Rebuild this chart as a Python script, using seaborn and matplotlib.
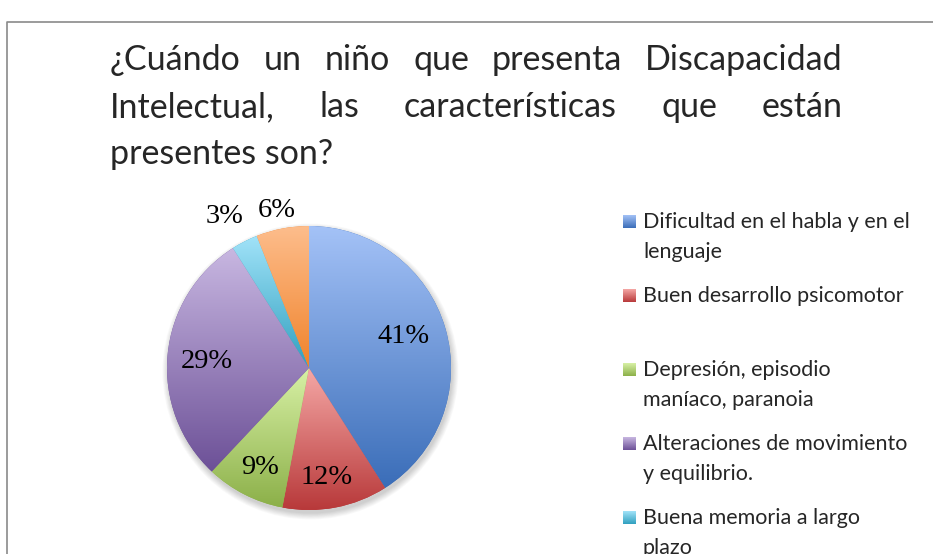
import numpy as np
import matplotlib
matplotlib.use("Agg")
import matplotlib.pyplot as plt
from matplotlib.colors import LinearSegmentedColormap
from matplotlib.patches import Circle
import seaborn as sns

# valores (porcentajes)
categorias = [
    "Dificultad en el habla y en el\nlenguaje",
    "Buen desarrollo psicomotor",
    "Depresión, episodio\nmaníaco, paranoia",
    "Alteraciones de movimiento\ny equilibrio.",
    "Buena memoria a largo\nplazo",
    None,  # la sexta entrada queda cortada bajo el borde
]
porcentajes = [41, 12, 9, 29, 3, 6]
titulo_lineas = [
    "¿Cuándo un niño que presenta Discapacidad",
    "Intelectual, las características que están",
    "presentes son?",
]

# degradado estilo Excel 2007: (arriba, abajo)
degradados = [
    ("#a4c2f7", "#3a6db8"),
    ("#f5a8a6", "#b8393a"),
    ("#d8f1a6", "#8cb049"),
    ("#c8b7e1", "#6c5097"),
    ("#a2e3f9", "#30a0bf"),
    ("#fdbd8c", "#f0832b"),
]

sns.set_style("white")
plt.rcParams["font.family"] = ["Lato", "DejaVu Sans"]

W, H = 933, 554
fig = plt.figure(figsize=(W / 100, H / 100), dpi=100)
fig.patch.set_facecolor("white")

# --- pie ---
cx, cy, r = 309, 368, 142
half = 1.3 * r
ax = fig.add_axes([(cx - half) / W, (H - cy - half) / H, 2 * half / W, 2 * half / H])

# sombra suave
for i in range(8):
    ax.add_patch(Circle((0.01, -0.025), 1.0 + 0.006 * i, color="black",
                        alpha=0.025, lw=0, zorder=0))

wedges, _, autotexts = ax.pie(porcentajes, startangle=90, counterclock=False,
                              autopct="%1.0f%%", pctdistance=0.72,
                              wedgeprops=dict(linewidth=0),
                              textprops=dict(family=["Liberation Serif", "DejaVu Serif"],
                                             fontsize=20.5, color="black"))

grad = np.linspace(0, 1, 256).reshape(-1, 1)
for w, (top, bot) in zip(wedges, degradados):
    w.set_facecolor(bot)
    w.set_zorder(1)
    bb = w.get_path().get_extents()
    cmap = LinearSegmentedColormap.from_list("g", [top, bot])
    im = ax.imshow(grad, cmap=cmap, origin="upper", aspect="auto",
                   extent=(bb.x0, bb.x1, bb.y0, bb.y1), zorder=2,
                   interpolation="bilinear")
    im.set_clip_path(w)

# posiciones de las etiquetas (best fit)
distancias = [0.70, 0.78, 0.78, 0.72, 1.22, 1.13]
desplaz = [2, -1.5, 1, 2, 2, 0.7]
for w, t, d, off in zip(wedges, autotexts, distancias, desplaz):
    ang = np.deg2rad((w.theta1 + w.theta2) / 2 + off)
    t.set_position((d * np.cos(ang), d * np.sin(ang)))
    t.set_zorder(5)

ax.set_xlim(-1.3, 1.3)
ax.set_ylim(-1.3, 1.3)
ax.set_axis_off()

# --- capa en pixeles para titulo, leyenda y marco ---
ov = fig.add_axes([0, 0, 1, 1], zorder=3)
ov.set_xlim(0, W)
ov.set_ylim(H, 0)
ov.set_axis_off()
ov.patch.set_alpha(0)

# marco del grafico
ov.plot([7, 7, W + 5], [H + 5, 22, 22], color="#8a8a8a", lw=1.2)

renderer = fig.canvas.get_renderer()
x_ini, x_fin = 110, 843
bases = [70, 117, 164]
for k, (linea, yb) in enumerate(zip(titulo_lineas, bases)):
    if k == len(titulo_lineas) - 1:
        ov.text(x_ini, yb, linea, fontsize=24.5, va="baseline", ha="left")
        continue
    palabras = linea.split()
    txts = [ov.text(0, yb, p, fontsize=24.5, va="baseline", ha="left") for p in palabras]
    anchos = [t.get_window_extent(renderer).width for t in txts]
    hueco = (x_fin - x_ini - sum(anchos)) / (len(palabras) - 1)
    x = x_ini
    for t, a in zip(txts, anchos):
        t.set_x(x)
        x += a + hueco

# leyenda
y0, paso, interlinea = 228, 74, 29.5
for i, (lab, (top, bot)) in enumerate(zip(categorias, degradados)):
    if lab is None:
        continue
    yb = y0 + i * paso
    cmap = LinearSegmentedColormap.from_list("g", [top, bot])
    ov.imshow(grad, cmap=cmap, origin="upper", aspect="auto",
              extent=(623, 636, yb, yb - 13), interpolation="bilinear")
    for j, parte in enumerate(lab.split("\n")):
        ov.text(643, yb + j * interlinea, parte, fontsize=15.5,
                va="baseline", ha="left")

ov.set_xlim(0, W)
ov.set_ylim(H, 0)

fig.savefig("out.png", dpi=100)
